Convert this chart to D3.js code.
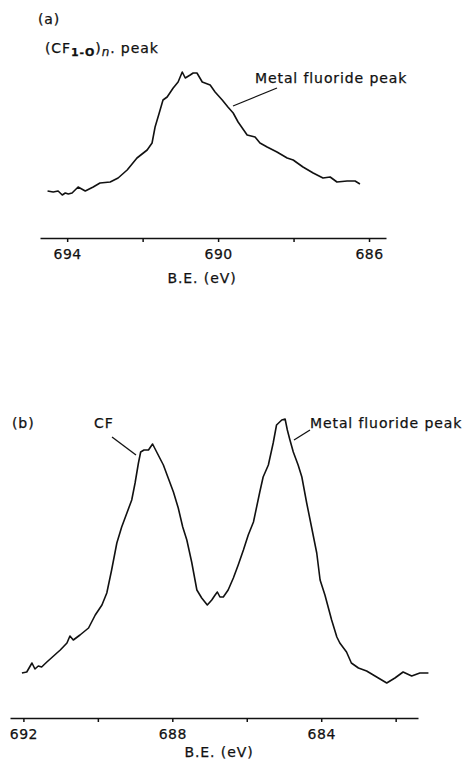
<!DOCTYPE html>
<html>
<head>
<meta charset="utf-8">
<title>XPS F1s spectra</title>
<script src="https://d3js.org/d3.v7.min.js"></script>
<style>
    body { margin: 0; background: #fff; }
    svg text { font-family: "DejaVu Sans", sans-serif; font-size: 14px; letter-spacing: 0.9px; fill: #111; stroke: #111; stroke-width: 0.25px; }
    .curve { fill: none; stroke: #111; stroke-width: 1.6; stroke-linejoin: round; }
    .axis path, .axis line { stroke: #111; stroke-width: 1.5; }
    .lead { stroke: #111; stroke-width: 1.3; }
</style>
</head>
<body>
<svg id="chart" width="466" height="761"></svg>
<script>
// panel (a): binding energy (eV) and intensity (arb. units)
const beA = [694.52, 694.37, 694.24, 694.13, 694.05, 693.97, 693.87, 693.71, 693.52, 693.31,
    693.13, 692.86, 692.65, 692.41, 692.15, 691.88, 691.75, 691.67, 691.56, 691.46,
    691.35, 691.19, 691.06, 690.95, 690.87, 690.74, 690.66, 690.56, 690.42, 690.21,
    690.08, 689.89, 689.74, 689.60, 689.47, 689.23, 689.02, 688.89, 688.70, 688.44,
    688.17, 688.01, 687.75, 687.48, 687.22, 687.03, 686.85, 686.58, 686.37, 686.24];
const intA = [47, 46, 47, 43, 45, 44, 45, 51, 47, 51,
    55, 56, 60, 68, 80, 88, 95, 111, 125, 138,
    141, 150, 156, 166, 160, 163, 165, 165, 156, 153,
    146, 138, 131, 125, 116, 103, 101, 95, 91, 86,
    80, 78, 71, 65, 60, 61, 56, 57, 57, 54];

// panel (b)
const beB = [692.04, 691.91, 691.77, 691.69, 691.60, 691.51, 691.37, 691.19, 691.01, 690.83,
    690.75, 690.66, 690.48, 690.25, 690.07, 689.89, 689.76, 689.63, 689.49, 689.36,
    689.22, 689.09, 689.00, 688.91, 688.85, 688.76, 688.64, 688.53, 688.42, 688.24,
    688.11, 687.97, 687.84, 687.72, 687.61, 687.48, 687.34, 687.21, 687.06, 686.94,
    686.85, 686.79, 686.72, 686.63, 686.50, 686.36, 686.23, 686.09, 685.96, 685.82,
    685.65, 685.56, 685.42, 685.29, 685.20, 685.06, 684.97, 684.91, 684.84, 684.75,
    684.62, 684.52, 684.39, 684.26, 684.12, 684.03, 683.90, 683.72, 683.58, 683.50,
    683.32, 683.19, 683.00, 682.78, 682.51, 682.24, 682.02, 681.80, 681.57, 681.35, 681.12];
const intB = [45, 46, 55, 49, 52, 51, 56, 62, 68, 75,
    82, 78, 83, 90, 103, 113, 125, 148, 175, 191,
    205, 218, 235, 255, 266, 268, 268, 274, 266, 253,
    240, 226, 210, 191, 178, 156, 128, 120, 113, 118,
    123, 126, 121, 121, 128, 140, 153, 168, 183, 196,
    226, 241, 253, 275, 293, 298, 299, 288, 278, 266,
    253, 241, 215, 191, 165, 138, 123, 98, 81, 75,
    66, 55, 50, 47, 41, 35, 40, 46, 42, 45, 45];

const ticksA = [694, 692, 690, 688, 686];
const labelsA = [694, 690, 686];
const ticksB = [692, 690, 688, 686, 684, 682];
const labelsB = [692, 688, 684];

const svg = d3.select("#chart");

function panel(cfg) {
    const x = d3.scaleLinear().domain(cfg.xDomain).range(cfg.xRange);
    const y = d3.scaleLinear().domain([0, cfg.yMax]).range([cfg.axisY, cfg.axisY - cfg.yMax]);

    const axis = d3.axisBottom(x)
        .tickValues(cfg.ticks)
        .tickSize(4)
        .tickSizeOuter(0)
        .tickPadding(7)
        .tickFormat(d => cfg.labels.includes(d) ? d : "");

    const g = svg.append("g")
        .attr("class", "axis")
        .attr("transform", `translate(0,${cfg.axisY})`)
        .call(axis);
    g.selectAll("text").style("font-size", "14px").style("letter-spacing", "0.5px");

    svg.append("text")
        .attr("x", cfg.titleX).attr("y", cfg.axisY + cfg.titleDy)
        .attr("text-anchor", "middle")
        .text("B.E. (eV)");

    const pts = cfg.be.map((b, i) => [b, cfg.val[i]]);
    svg.append("path")
        .attr("class", "curve")
        .attr("d", d3.line().x(d => x(d[0])).y(d => y(d[1]))(pts));
    return { x, y };
}

panel({ xDomain: [694.72, 685.55], xRange: [40, 386], axisY: 238, yMax: 170,
    ticks: ticksA, labels: labelsA, be: beA, val: intA, titleX: 202, titleDy: 45 });
panel({ xDomain: [692.36, 681.40], xRange: [10, 418], axisY: 718, yMax: 300,
    ticks: ticksB, labels: labelsB, be: beB, val: intB, titleX: 219, titleDy: 39 });

// labels, panel (a)
svg.append("text").attr("x", 38).attr("y", 24).text("(a)");
const cf = svg.append("text").attr("x", 45).attr("y", 53);
cf.append("tspan").text("(CF");
cf.append("tspan").attr("font-size", 11).attr("font-weight", "bold").attr("dy", 3).text("1-O");
cf.append("tspan").attr("dy", -3).text(")");
cf.append("tspan").attr("font-size", 12).attr("font-style", "italic").attr("dy", 3).text("n");
cf.append("tspan").attr("dy", -3).text(". peak");

svg.append("text").attr("x", 255).attr("y", 83).text("Metal fluoride peak");
svg.append("line").attr("class", "lead").attr("x1", 233).attr("y1", 106).attr("x2", 277).attr("y2", 88);

// labels, panel (b)
svg.append("text").attr("x", 12).attr("y", 428).text("(b)");
svg.append("text").attr("x", 94).attr("y", 428).text("CF");
svg.append("line").attr("class", "lead").attr("x1", 112).attr("y1", 437).attr("x2", 136).attr("y2", 455);
svg.append("text").attr("x", 310).attr("y", 428).text("Metal fluoride peak");
svg.append("line").attr("class", "lead").attr("x1", 294).attr("y1", 440).attr("x2", 310).attr("y2", 430);
</script>
</body>
</html>
